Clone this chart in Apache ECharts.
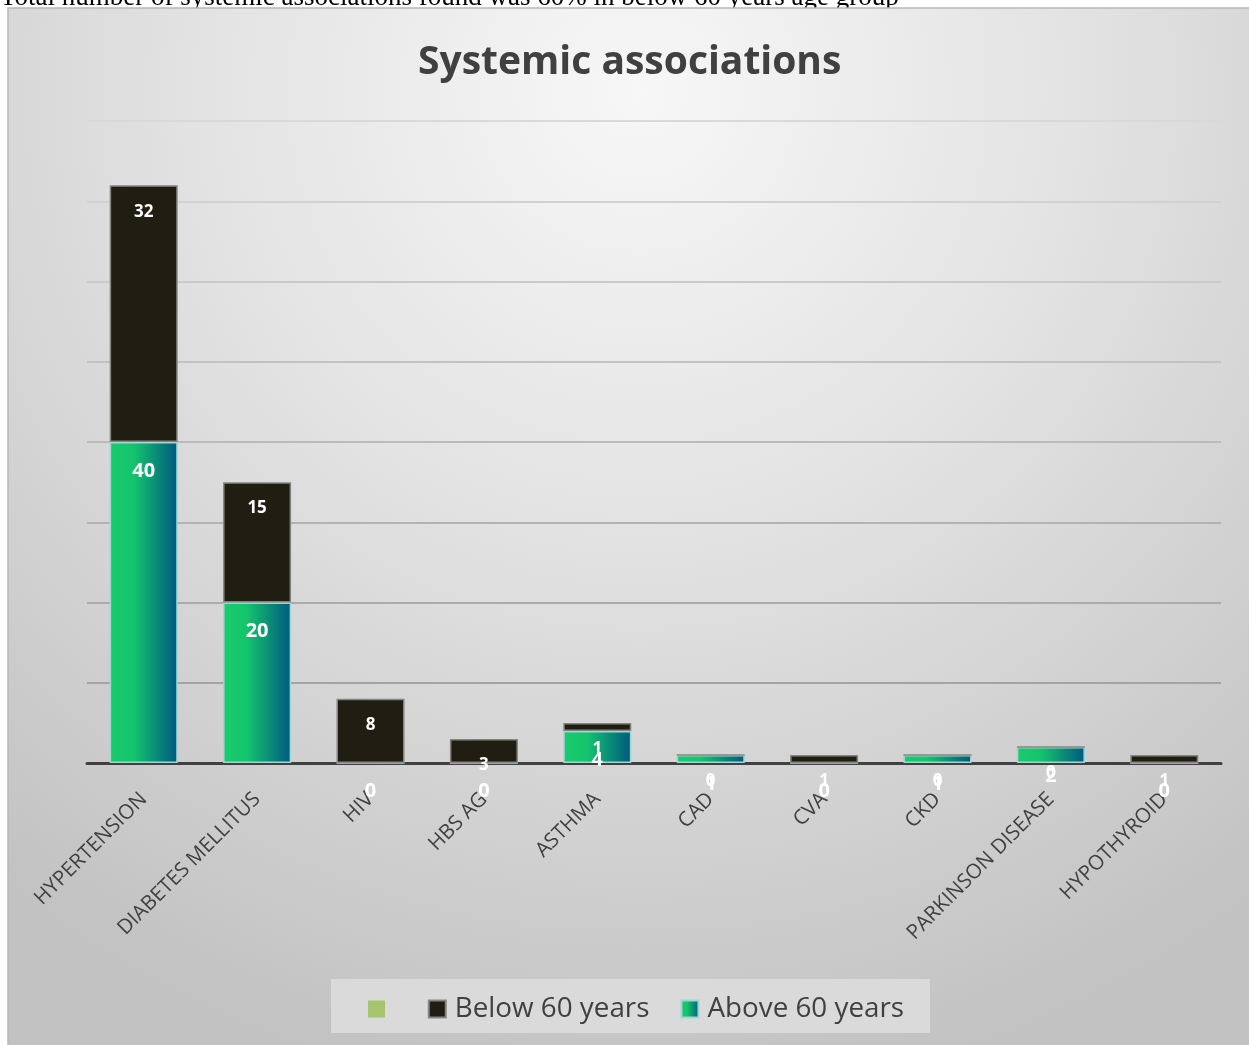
<!DOCTYPE html>
<html>
<head>
<meta charset="utf-8">
<script src="https://cdn.jsdelivr.net/npm/echarts@6/dist/echarts.min.js"></script>
<style>
html,body{margin:0;padding:0;background:#fff;}
#chart{width:1249px;height:1045px;}
</style>
</head>
<body>
<div id="chart"></div>
<script>
var categories = ['HYPERTENSION','DIABETES MELLITUS','HIV','HBS AG','ASTHMA','CAD','CVA','CKD','PARKINSON DISEASE','HYPOTHYROID'];
var above60 = [40, 20, 0, 0, 4, 1, 0, 1, 2, 0];
var below60 = [32, 15, 8, 3, 1, 0, 1, 0, 0, 1];
var blankSeries = [];
var yTicks = [0, 10, 20, 30, 40, 50, 60, 70, 80];
var BLANK = '\u200a';

var chart = echarts.init(document.getElementById('chart'), null, {renderer: 'canvas'});
var FONT = '"Open Sans", "Noto Sans", sans-serif';

var greenGrad = new echarts.graphic.LinearGradient(0, 0, 1, 0, [
  {offset: 0, color: '#19cb6c'},
  {offset: 0.35, color: '#14c46d'},
  {offset: 1, color: '#00587f'}
]);
var gridGrad = new echarts.graphic.LinearGradient(0, 121, 0, 763, [
  {offset: 0, color: '#d9d9d9'},
  {offset: 1, color: '#9c9c9c'}
], true);

var option = {
  backgroundColor: '#ffffff',
  animation: false,
  graphic: [
    {
      type: 'rect', z: -10, silent: true,
      shape: {x: 8, y: 8, width: 1260, height: 1060},
      style: {
        fill: new echarts.graphic.RadialGradient(0.5, 0.08, 0.95, [
          {offset: 0, color: '#f7f7f7'},
          {offset: 0.45, color: '#e2e2e2'},
          {offset: 1, color: '#c2c2c2'}
        ]),
        stroke: '#b8b8b8', lineWidth: 1.5
      }
    },
    {
      type: 'text', silent: true, left: 0, top: -16, z: -20,
      style: {
        text: 'Total number of systemic associations found was 60% in below 60 years age group',
        font: '27px "Liberation Serif", "Times New Roman", serif',
        fill: '#000'
      }
    },
    {
      type: 'rect', z: -5, silent: true,
      shape: {x: 331, y: 979, width: 599, height: 54},
      style: {fill: '#dadada'}
    }
  ],
  title: {
    text: 'Systemic associations',
    left: 413, top: 38,
    textStyle: {fontFamily: FONT, fontSize: 39, fontWeight: 'bold', color: '#404040'}
  },
  legend: {
    data: [BLANK, 'Below 60 years', 'Above 60 years'],
    left: 363, top: 990,
    icon: 'rect', itemWidth: 17, itemHeight: 17, itemGap: 31,
    textStyle: {fontFamily: FONT, fontSize: 27.8, color: '#404040', padding: [0, 0, 0, 4]},
    selectedMode: false
  },
  grid: {left: 87, right: 28, top: 121, bottom: 282, containLabel: false},
  xAxis: {
    type: 'category',
    data: categories,
    axisLine: {lineStyle: {color: '#404040', width: 3}},
    axisTick: {show: false},
    axisLabel: {interval: 0, rotate: 45, margin: 33, fontFamily: FONT, fontSize: 20.5, color: '#404040'}
  },
  yAxis: {
    type: 'value',
    min: yTicks[0], max: yTicks[yTicks.length - 1], interval: 10,
    axisLine: {show: false}, axisTick: {show: false},
    axisLabel: {show: false},
    splitLine: {lineStyle: {color: gridGrad, width: 2}}
  },
  series: [
    {
      name: 'Above 60 years', type: 'bar', stack: 'total',
      barCategoryGap: '40%',
      data: above60,
      itemStyle: {color: greenGrad, borderColor: '#9fd6d2', borderWidth: 1.5},
      label: {show: true, position: 'insideTop', distance: 19, color: '#fff',
              fontFamily: FONT, fontSize: 20, fontWeight: 'bold'}
    },
    {
      name: 'Below 60 years', type: 'bar', stack: 'total',
      barCategoryGap: '40%',
      data: below60,
      itemStyle: {color: '#201e13', borderColor: '#858580', borderWidth: 1.5},
      label: {show: true, position: 'insideTop', distance: 18, color: '#fff',
              fontFamily: FONT, fontSize: 17, fontWeight: 'bold'}
    },
    {
      name: BLANK, type: 'bar', stack: 'total', data: blankSeries,
      itemStyle: {color: '#a6c46e'}
    }
  ]
};
chart.setOption(option);
</script>
</body>
</html>
